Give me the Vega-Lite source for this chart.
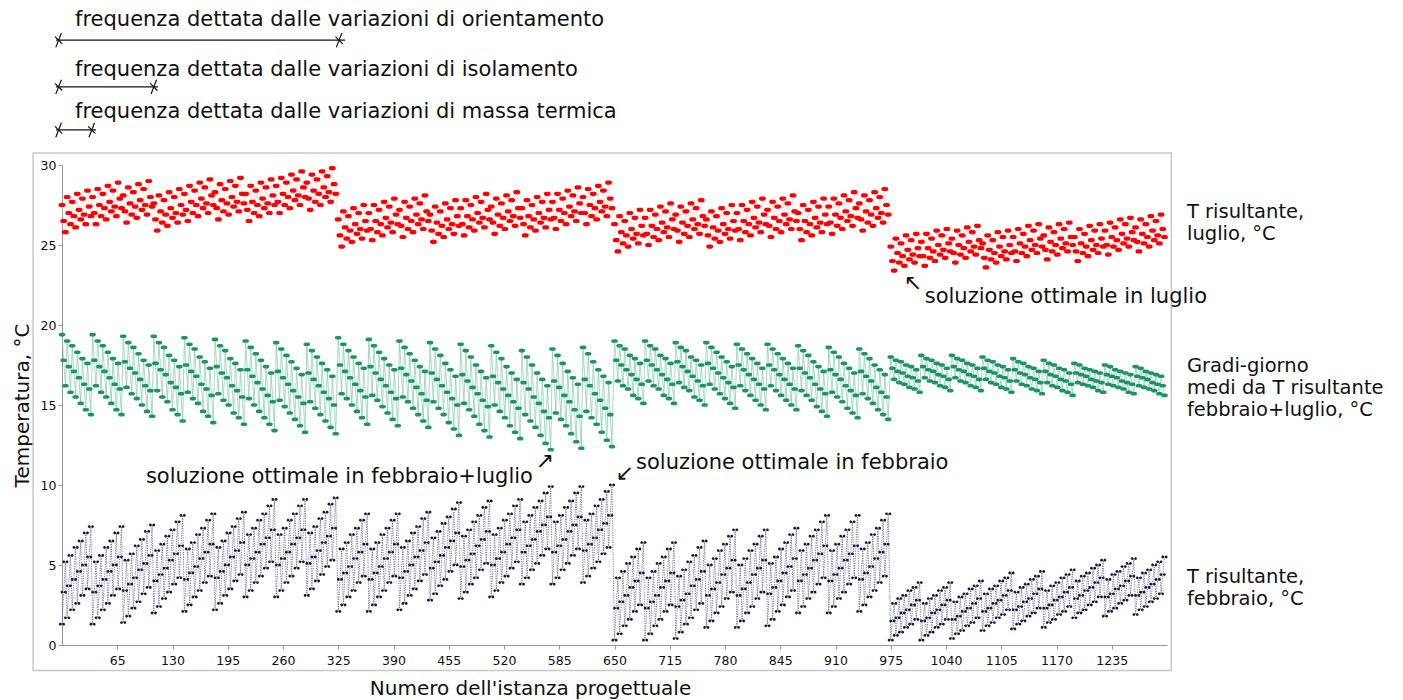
{
"$schema": "https://vega.github.io/schema/vega-lite/v6.json",
"width": 1105, "height": 480,
"autosize": {"type": "none"},
"padding": {"left": 62, "top": 165, "right": 236, "bottom": 55},
"background": "white",
"config": {"view": {"stroke": null}, "font": "DejaVu Sans"},
"data": {"values": [{}]},
"datasets": {"t": [
{"x":0,"f":1.3,"g":19.4,"l":27.5},{"x":2,"f":3.3,"g":17.8,"l":26.5},{"x":4,"f":5.2,"g":16.2,"l":25.8},{"x":6,"f":1.7,"g":19.0,"l":28.0},{"x":8,"f":3.7,"g":17.4,"l":27.0},{"x":10,"f":5.6,"g":15.8,"l":26.3},{"x":12,"f":2.2,"g":18.7,"l":27.7},{"x":14,"f":4.1,"g":17.1,"l":26.8},{"x":16,"f":6.1,"g":15.5,"l":26.1},{"x":18,"f":2.6,"g":18.3,"l":28.2},{"x":20,"f":4.6,"g":16.7,"l":27.2},{"x":22,"f":6.5,"g":15.1,"l":26.6},{"x":24,"f":3.1,"g":17.9,"l":27.9},{"x":26,"f":5.0,"g":16.3,"l":26.9},{"x":28,"f":7.0,"g":14.7,"l":26.3},{"x":30,"f":3.5,"g":17.6,"l":28.4},{"x":32,"f":5.5,"g":16.0,"l":27.4},{"x":34,"f":7.4,"g":14.4,"l":26.8},
{"x":36,"f":1.3,"g":19.4,"l":28.0},{"x":38,"f":3.3,"g":17.8,"l":27.0},{"x":40,"f":5.2,"g":16.2,"l":26.3},{"x":42,"f":1.7,"g":19.0,"l":28.5},{"x":44,"f":3.7,"g":17.4,"l":27.5},{"x":46,"f":5.6,"g":15.8,"l":26.8},{"x":48,"f":2.2,"g":18.7,"l":28.2},{"x":50,"f":4.1,"g":17.1,"l":27.3},{"x":52,"f":6.1,"g":15.5,"l":26.6},{"x":54,"f":2.6,"g":18.3,"l":28.7},{"x":56,"f":4.6,"g":16.7,"l":27.7},{"x":58,"f":6.5,"g":15.1,"l":27.1},{"x":60,"f":3.1,"g":17.9,"l":28.4},{"x":62,"f":5.0,"g":16.3,"l":27.4},{"x":64,"f":7.0,"g":14.7,"l":26.8},{"x":66,"f":3.5,"g":17.6,"l":28.9},{"x":68,"f":5.5,"g":16.0,"l":27.9},{"x":70,"f":7.4,"g":14.4,"l":27.3},
{"x":72,"f":1.4,"g":19.3,"l":28.1},{"x":74,"f":3.4,"g":17.7,"l":27.1},{"x":76,"f":5.3,"g":16.1,"l":26.4},{"x":78,"f":1.8,"g":18.9,"l":28.6},{"x":80,"f":3.8,"g":17.3,"l":27.6},{"x":82,"f":5.7,"g":15.7,"l":26.9},{"x":84,"f":2.3,"g":18.6,"l":28.3},{"x":86,"f":4.2,"g":17.0,"l":27.4},{"x":88,"f":6.2,"g":15.4,"l":26.7},{"x":90,"f":2.7,"g":18.2,"l":28.8},{"x":92,"f":4.7,"g":16.6,"l":27.8},{"x":94,"f":6.6,"g":15.0,"l":27.2},{"x":96,"f":3.2,"g":17.8,"l":28.5},{"x":98,"f":5.1,"g":16.2,"l":27.5},{"x":100,"f":7.1,"g":14.6,"l":26.9},{"x":102,"f":3.6,"g":17.5,"l":29.0},{"x":104,"f":5.6,"g":15.9,"l":28.0},{"x":106,"f":7.5,"g":14.3,"l":27.4},
{"x":108,"f":2.0,"g":19.3,"l":27.6},{"x":110,"f":4.0,"g":17.6,"l":26.6},{"x":112,"f":5.9,"g":15.9,"l":25.9},{"x":114,"f":2.4,"g":18.9,"l":28.1},{"x":116,"f":4.4,"g":17.2,"l":27.1},{"x":118,"f":6.3,"g":15.5,"l":26.4},{"x":120,"f":2.9,"g":18.6,"l":27.8},{"x":122,"f":4.8,"g":16.9,"l":26.9},{"x":124,"f":6.8,"g":15.2,"l":26.2},{"x":126,"f":3.3,"g":18.1,"l":28.3},{"x":128,"f":5.3,"g":16.4,"l":27.3},{"x":130,"f":7.2,"g":14.7,"l":26.7},{"x":132,"f":3.8,"g":17.8,"l":28.0},{"x":134,"f":5.7,"g":16.1,"l":27.0},{"x":136,"f":7.7,"g":14.4,"l":26.4},{"x":138,"f":4.2,"g":17.4,"l":28.5},{"x":140,"f":6.2,"g":15.7,"l":27.5},{"x":142,"f":8.1,"g":14.0,"l":26.9},
{"x":144,"f":2.1,"g":19.2,"l":28.2},{"x":146,"f":4.1,"g":17.5,"l":27.2},{"x":148,"f":6.0,"g":15.8,"l":26.5},{"x":150,"f":2.5,"g":18.8,"l":28.7},{"x":152,"f":4.5,"g":17.1,"l":27.7},{"x":154,"f":6.4,"g":15.4,"l":27.0},{"x":156,"f":3.0,"g":18.5,"l":28.4},{"x":158,"f":4.9,"g":16.8,"l":27.5},{"x":160,"f":6.9,"g":15.1,"l":26.8},{"x":162,"f":3.4,"g":18.0,"l":28.9},{"x":164,"f":5.4,"g":16.3,"l":27.9},{"x":166,"f":7.3,"g":14.6,"l":27.3},{"x":168,"f":3.9,"g":17.7,"l":28.6},{"x":170,"f":5.8,"g":16.0,"l":27.6},{"x":172,"f":7.8,"g":14.3,"l":27.0},{"x":174,"f":4.3,"g":17.3,"l":29.1},{"x":176,"f":6.3,"g":15.6,"l":28.1},{"x":178,"f":8.2,"g":13.9,"l":27.5},
{"x":180,"f":2.2,"g":19.1,"l":28.3},{"x":182,"f":4.2,"g":17.4,"l":27.3},{"x":184,"f":6.1,"g":15.7,"l":26.6},{"x":186,"f":2.6,"g":18.7,"l":28.8},{"x":188,"f":4.6,"g":17.0,"l":27.8},{"x":190,"f":6.5,"g":15.3,"l":27.1},{"x":192,"f":3.1,"g":18.4,"l":28.5},{"x":194,"f":5.0,"g":16.7,"l":27.6},{"x":196,"f":7.0,"g":15.0,"l":26.9},{"x":198,"f":3.5,"g":17.9,"l":29.0},{"x":200,"f":5.5,"g":16.2,"l":28.0},{"x":202,"f":7.4,"g":14.5,"l":27.4},{"x":204,"f":4.0,"g":17.6,"l":28.7},{"x":206,"f":5.9,"g":15.9,"l":27.7},{"x":208,"f":7.9,"g":14.2,"l":27.1},{"x":210,"f":4.4,"g":17.2,"l":29.2},{"x":212,"f":6.4,"g":15.5,"l":28.2},{"x":214,"f":8.3,"g":13.8,"l":27.6},
{"x":216,"f":3.0,"g":19.0,"l":28.2},{"x":218,"f":5.0,"g":17.2,"l":27.2},{"x":220,"f":6.9,"g":15.4,"l":26.5},{"x":222,"f":3.4,"g":18.6,"l":28.7},{"x":224,"f":5.4,"g":16.8,"l":27.7},{"x":226,"f":7.3,"g":15.0,"l":27.0},{"x":228,"f":3.9,"g":18.2,"l":28.4},{"x":230,"f":5.8,"g":16.4,"l":27.5},{"x":232,"f":7.8,"g":14.6,"l":26.8},{"x":234,"f":4.3,"g":17.8,"l":28.9},{"x":236,"f":6.3,"g":16.0,"l":27.9},{"x":238,"f":8.2,"g":14.2,"l":27.3},{"x":240,"f":4.8,"g":17.4,"l":28.6},{"x":242,"f":6.7,"g":15.6,"l":27.6},{"x":244,"f":8.7,"g":13.8,"l":27.0},{"x":246,"f":5.2,"g":17.0,"l":29.1},{"x":248,"f":7.2,"g":15.2,"l":28.1},{"x":250,"f":9.1,"g":13.4,"l":27.5},
{"x":252,"f":3.0,"g":18.9,"l":28.7},{"x":254,"f":5.0,"g":17.1,"l":27.7},{"x":256,"f":6.9,"g":15.3,"l":27.0},{"x":258,"f":3.4,"g":18.5,"l":29.2},{"x":260,"f":5.4,"g":16.7,"l":28.2},{"x":262,"f":7.3,"g":14.9,"l":27.5},{"x":264,"f":3.9,"g":18.1,"l":28.9},{"x":266,"f":5.8,"g":16.3,"l":28.0},{"x":268,"f":7.8,"g":14.5,"l":27.3},{"x":270,"f":4.3,"g":17.7,"l":29.4},{"x":272,"f":6.3,"g":15.9,"l":28.4},{"x":274,"f":8.2,"g":14.1,"l":27.8},{"x":276,"f":4.8,"g":17.3,"l":29.1},{"x":278,"f":6.7,"g":15.5,"l":28.1},{"x":280,"f":8.7,"g":13.7,"l":27.5},{"x":282,"f":5.2,"g":16.9,"l":29.6},{"x":284,"f":7.2,"g":15.1,"l":28.6},{"x":286,"f":9.1,"g":13.3,"l":28.0},
{"x":288,"f":3.1,"g":18.8,"l":28.9},{"x":290,"f":5.1,"g":17.0,"l":27.9},{"x":292,"f":7.0,"g":15.2,"l":27.2},{"x":294,"f":3.5,"g":18.4,"l":29.4},{"x":296,"f":5.5,"g":16.6,"l":28.4},{"x":298,"f":7.4,"g":14.8,"l":27.7},{"x":300,"f":4.0,"g":18.0,"l":29.1},{"x":302,"f":5.9,"g":16.2,"l":28.2},{"x":304,"f":7.9,"g":14.4,"l":27.5},{"x":306,"f":4.4,"g":17.6,"l":29.6},{"x":308,"f":6.4,"g":15.8,"l":28.6},{"x":310,"f":8.3,"g":14.0,"l":28.0},{"x":312,"f":4.9,"g":17.2,"l":29.3},{"x":314,"f":6.8,"g":15.4,"l":28.3},{"x":316,"f":8.8,"g":13.6,"l":27.7},{"x":318,"f":5.3,"g":16.8,"l":29.8},{"x":320,"f":7.3,"g":15.0,"l":28.8},{"x":322,"f":9.2,"g":13.2,"l":28.2},
{"x":325,"f":2.1,"g":19.2,"l":26.6},{"x":327,"f":4.1,"g":17.5,"l":25.6},{"x":329,"f":6.0,"g":15.7,"l":24.9},{"x":331,"f":2.5,"g":18.8,"l":27.1},{"x":333,"f":4.5,"g":17.1,"l":26.1},{"x":335,"f":6.4,"g":15.4,"l":25.4},{"x":337,"f":3.0,"g":18.4,"l":26.8},{"x":339,"f":4.9,"g":16.7,"l":25.9},{"x":341,"f":6.9,"g":15.0,"l":25.2},{"x":343,"f":3.4,"g":18.0,"l":27.3},{"x":345,"f":5.4,"g":16.3,"l":26.3},{"x":347,"f":7.3,"g":14.6,"l":25.7},{"x":349,"f":3.9,"g":17.6,"l":27.0},{"x":351,"f":5.8,"g":15.9,"l":26.0},{"x":353,"f":7.8,"g":14.2,"l":25.4},{"x":355,"f":4.3,"g":17.3,"l":27.5},{"x":357,"f":6.3,"g":15.5,"l":26.5},{"x":359,"f":8.2,"g":13.8,"l":25.9},
{"x":361,"f":2.1,"g":19.1,"l":27.0},{"x":363,"f":4.1,"g":17.4,"l":26.0},{"x":365,"f":6.0,"g":15.6,"l":25.3},{"x":367,"f":2.5,"g":18.7,"l":27.5},{"x":369,"f":4.5,"g":17.0,"l":26.5},{"x":371,"f":6.4,"g":15.3,"l":25.8},{"x":373,"f":3.0,"g":18.3,"l":27.2},{"x":375,"f":4.9,"g":16.6,"l":26.3},{"x":377,"f":6.9,"g":14.9,"l":25.6},{"x":379,"f":3.4,"g":17.9,"l":27.7},{"x":381,"f":5.4,"g":16.2,"l":26.7},{"x":383,"f":7.3,"g":14.5,"l":26.1},{"x":385,"f":3.9,"g":17.5,"l":27.4},{"x":387,"f":5.8,"g":15.8,"l":26.4},{"x":389,"f":7.8,"g":14.1,"l":25.8},{"x":391,"f":4.3,"g":17.2,"l":27.9},{"x":393,"f":6.3,"g":15.4,"l":26.9},{"x":395,"f":8.2,"g":13.7,"l":26.3},
{"x":397,"f":2.2,"g":19.0,"l":27.2},{"x":399,"f":4.2,"g":17.3,"l":26.2},{"x":401,"f":6.1,"g":15.5,"l":25.5},{"x":403,"f":2.6,"g":18.6,"l":27.7},{"x":405,"f":4.6,"g":16.9,"l":26.7},{"x":407,"f":6.5,"g":15.2,"l":26.0},{"x":409,"f":3.1,"g":18.2,"l":27.4},{"x":411,"f":5.0,"g":16.5,"l":26.5},{"x":413,"f":7.0,"g":14.8,"l":25.8},{"x":415,"f":3.5,"g":17.8,"l":27.9},{"x":417,"f":5.5,"g":16.1,"l":26.9},{"x":419,"f":7.4,"g":14.4,"l":26.3},{"x":421,"f":4.0,"g":17.4,"l":27.6},{"x":423,"f":5.9,"g":15.7,"l":26.6},{"x":425,"f":7.9,"g":14.0,"l":26.0},{"x":427,"f":4.4,"g":17.1,"l":28.1},{"x":429,"f":6.4,"g":15.3,"l":27.1},{"x":431,"f":8.3,"g":13.6,"l":26.5},
{"x":433,"f":2.8,"g":18.9,"l":26.9},{"x":435,"f":4.8,"g":17.0,"l":25.9},{"x":437,"f":6.7,"g":15.2,"l":25.2},{"x":439,"f":3.2,"g":18.5,"l":27.4},{"x":441,"f":5.2,"g":16.6,"l":26.4},{"x":443,"f":7.1,"g":14.8,"l":25.7},{"x":445,"f":3.7,"g":18.1,"l":27.1},{"x":447,"f":5.6,"g":16.2,"l":26.2},{"x":449,"f":7.6,"g":14.4,"l":25.5},{"x":451,"f":4.1,"g":17.6,"l":27.6},{"x":453,"f":6.1,"g":15.8,"l":26.6},{"x":455,"f":8.0,"g":13.9,"l":26.0},{"x":457,"f":4.6,"g":17.2,"l":27.3},{"x":459,"f":6.5,"g":15.4,"l":26.3},{"x":461,"f":8.5,"g":13.5,"l":25.7},{"x":463,"f":5.0,"g":16.8,"l":27.8},{"x":465,"f":7.0,"g":15.0,"l":26.8},{"x":467,"f":8.9,"g":13.1,"l":26.2},
{"x":469,"f":2.9,"g":18.8,"l":27.3},{"x":471,"f":4.9,"g":16.9,"l":26.3},{"x":473,"f":6.8,"g":15.1,"l":25.6},{"x":475,"f":3.3,"g":18.4,"l":27.8},{"x":477,"f":5.3,"g":16.5,"l":26.8},{"x":479,"f":7.2,"g":14.7,"l":26.1},{"x":481,"f":3.8,"g":18.0,"l":27.5},{"x":483,"f":5.7,"g":16.1,"l":26.6},{"x":485,"f":7.7,"g":14.3,"l":25.9},{"x":487,"f":4.2,"g":17.5,"l":28.0},{"x":489,"f":6.2,"g":15.7,"l":27.0},{"x":491,"f":8.1,"g":13.8,"l":26.4},{"x":493,"f":4.7,"g":17.1,"l":27.7},{"x":495,"f":6.6,"g":15.3,"l":26.7},{"x":497,"f":8.6,"g":13.4,"l":26.1},{"x":499,"f":5.1,"g":16.7,"l":28.2},{"x":501,"f":7.1,"g":14.9,"l":27.2},{"x":503,"f":9.0,"g":13.0,"l":26.6},
{"x":505,"f":3.0,"g":18.7,"l":27.4},{"x":507,"f":5.0,"g":16.8,"l":26.4},{"x":509,"f":6.9,"g":15.0,"l":25.7},{"x":511,"f":3.4,"g":18.3,"l":27.9},{"x":513,"f":5.4,"g":16.4,"l":26.9},{"x":515,"f":7.3,"g":14.6,"l":26.2},{"x":517,"f":3.9,"g":17.9,"l":27.6},{"x":519,"f":5.8,"g":16.0,"l":26.7},{"x":521,"f":7.8,"g":14.2,"l":26.0},{"x":523,"f":4.3,"g":17.4,"l":28.1},{"x":525,"f":6.3,"g":15.6,"l":27.1},{"x":527,"f":8.2,"g":13.7,"l":26.5},{"x":529,"f":4.8,"g":17.0,"l":27.8},{"x":531,"f":6.7,"g":15.2,"l":26.8},{"x":533,"f":8.7,"g":13.3,"l":26.2},{"x":535,"f":5.2,"g":16.6,"l":28.3},{"x":537,"f":7.2,"g":14.8,"l":27.3},{"x":539,"f":9.1,"g":12.9,"l":26.7},
{"x":541,"f":3.8,"g":18.4,"l":27.3},{"x":543,"f":5.8,"g":16.4,"l":26.3},{"x":545,"f":7.7,"g":14.4,"l":25.6},{"x":547,"f":4.2,"g":18.0,"l":27.8},{"x":549,"f":6.2,"g":16.0,"l":26.8},{"x":551,"f":8.1,"g":14.0,"l":26.1},{"x":553,"f":4.7,"g":17.5,"l":27.5},{"x":555,"f":6.6,"g":15.5,"l":26.6},{"x":557,"f":8.6,"g":13.6,"l":25.9},{"x":559,"f":5.1,"g":17.0,"l":28.0},{"x":561,"f":7.1,"g":15.1,"l":27.0},{"x":563,"f":9.0,"g":13.1,"l":26.4},{"x":565,"f":5.6,"g":16.6,"l":27.7},{"x":567,"f":7.5,"g":14.6,"l":26.7},{"x":569,"f":9.5,"g":12.6,"l":26.1},{"x":571,"f":6.0,"g":16.2,"l":28.2},{"x":573,"f":8.0,"g":14.2,"l":27.2},{"x":575,"f":9.9,"g":12.2,"l":26.6},
{"x":577,"f":3.8,"g":18.5,"l":27.7},{"x":579,"f":5.8,"g":16.5,"l":26.7},{"x":581,"f":7.7,"g":14.5,"l":26.0},{"x":583,"f":4.2,"g":18.1,"l":28.2},{"x":585,"f":6.2,"g":16.1,"l":27.2},{"x":587,"f":8.1,"g":14.1,"l":26.5},{"x":589,"f":4.7,"g":17.6,"l":27.9},{"x":591,"f":6.6,"g":15.6,"l":27.0},{"x":593,"f":8.6,"g":13.7,"l":26.3},{"x":595,"f":5.1,"g":17.1,"l":28.4},{"x":597,"f":7.1,"g":15.2,"l":27.4},{"x":599,"f":9.0,"g":13.2,"l":26.8},{"x":601,"f":5.6,"g":16.7,"l":28.1},{"x":603,"f":7.5,"g":14.7,"l":27.1},{"x":605,"f":9.5,"g":12.7,"l":26.5},{"x":607,"f":6.0,"g":16.3,"l":28.6},{"x":609,"f":8.0,"g":14.3,"l":27.6},{"x":611,"f":9.9,"g":12.3,"l":27.0},
{"x":613,"f":3.9,"g":18.6,"l":28.0},{"x":615,"f":5.9,"g":16.6,"l":27.0},{"x":617,"f":7.8,"g":14.6,"l":26.3},{"x":619,"f":4.3,"g":18.2,"l":28.5},{"x":621,"f":6.3,"g":16.2,"l":27.5},{"x":623,"f":8.2,"g":14.2,"l":26.8},{"x":625,"f":4.8,"g":17.7,"l":28.2},{"x":627,"f":6.7,"g":15.7,"l":27.3},{"x":629,"f":8.7,"g":13.8,"l":26.6},{"x":631,"f":5.2,"g":17.2,"l":28.7},{"x":633,"f":7.2,"g":15.3,"l":27.7},{"x":635,"f":9.1,"g":13.3,"l":27.1},{"x":637,"f":5.7,"g":16.8,"l":28.4},{"x":639,"f":7.6,"g":14.8,"l":27.4},{"x":641,"f":9.6,"g":12.8,"l":26.8},{"x":643,"f":6.1,"g":16.4,"l":28.9},{"x":645,"f":8.1,"g":14.4,"l":27.9},{"x":647,"f":10.0,"g":12.4,"l":27.3},
{"x":650,"f":0.3,"g":19.0,"l":26.3},{"x":652,"f":2.3,"g":17.8,"l":25.3},{"x":654,"f":4.2,"g":16.5,"l":24.6},{"x":656,"f":0.7,"g":18.7,"l":26.8},{"x":658,"f":2.7,"g":17.5,"l":25.8},{"x":660,"f":4.6,"g":16.2,"l":25.1},{"x":662,"f":1.2,"g":18.5,"l":26.5},{"x":664,"f":3.1,"g":17.2,"l":25.6},{"x":666,"f":5.1,"g":16.0,"l":24.9},{"x":668,"f":1.6,"g":18.1,"l":27.0},{"x":670,"f":3.6,"g":16.9,"l":26.0},{"x":672,"f":5.5,"g":15.6,"l":25.4},{"x":674,"f":2.1,"g":17.9,"l":26.7},{"x":676,"f":4.0,"g":16.6,"l":25.7},{"x":678,"f":6.0,"g":15.4,"l":25.1},{"x":680,"f":2.5,"g":17.6,"l":27.2},{"x":682,"f":4.5,"g":16.3,"l":26.2},{"x":684,"f":6.4,"g":15.1,"l":25.6},
{"x":686,"f":0.3,"g":19.0,"l":26.7},{"x":688,"f":2.3,"g":17.8,"l":25.7},{"x":690,"f":4.2,"g":16.5,"l":25.0},{"x":692,"f":0.7,"g":18.7,"l":27.2},{"x":694,"f":2.7,"g":17.5,"l":26.2},{"x":696,"f":4.6,"g":16.2,"l":25.5},{"x":698,"f":1.2,"g":18.5,"l":26.9},{"x":700,"f":3.1,"g":17.2,"l":26.0},{"x":702,"f":5.1,"g":16.0,"l":25.3},{"x":704,"f":1.6,"g":18.1,"l":27.4},{"x":706,"f":3.6,"g":16.9,"l":26.4},{"x":708,"f":5.5,"g":15.6,"l":25.8},{"x":710,"f":2.1,"g":17.9,"l":27.1},{"x":712,"f":4.0,"g":16.6,"l":26.1},{"x":714,"f":6.0,"g":15.4,"l":25.5},{"x":716,"f":2.5,"g":17.6,"l":27.6},{"x":718,"f":4.5,"g":16.3,"l":26.6},{"x":720,"f":6.4,"g":15.1,"l":26.0},
{"x":722,"f":0.4,"g":18.9,"l":26.9},{"x":724,"f":2.4,"g":17.7,"l":25.9},{"x":726,"f":4.3,"g":16.4,"l":25.2},{"x":728,"f":0.8,"g":18.6,"l":27.4},{"x":730,"f":2.8,"g":17.4,"l":26.4},{"x":732,"f":4.7,"g":16.1,"l":25.7},{"x":734,"f":1.3,"g":18.4,"l":27.1},{"x":736,"f":3.2,"g":17.1,"l":26.2},{"x":738,"f":5.2,"g":15.9,"l":25.5},{"x":740,"f":1.7,"g":18.0,"l":27.6},{"x":742,"f":3.7,"g":16.8,"l":26.6},{"x":744,"f":5.6,"g":15.5,"l":26.0},{"x":746,"f":2.2,"g":17.8,"l":27.3},{"x":748,"f":4.1,"g":16.5,"l":26.3},{"x":750,"f":6.1,"g":15.3,"l":25.7},{"x":752,"f":2.6,"g":17.5,"l":27.8},{"x":754,"f":4.6,"g":16.2,"l":26.8},{"x":756,"f":6.5,"g":15.0,"l":26.2},
{"x":758,"f":1.1,"g":18.9,"l":26.6},{"x":760,"f":3.1,"g":17.6,"l":25.6},{"x":762,"f":5.0,"g":16.3,"l":24.9},{"x":764,"f":1.5,"g":18.6,"l":27.1},{"x":766,"f":3.5,"g":17.3,"l":26.1},{"x":768,"f":5.4,"g":16.0,"l":25.4},{"x":770,"f":2.0,"g":18.3,"l":26.8},{"x":772,"f":3.9,"g":17.0,"l":25.9},{"x":774,"f":5.9,"g":15.7,"l":25.2},{"x":776,"f":2.4,"g":18.0,"l":27.3},{"x":778,"f":4.4,"g":16.7,"l":26.3},{"x":780,"f":6.3,"g":15.4,"l":25.7},{"x":782,"f":2.9,"g":17.7,"l":27.0},{"x":784,"f":4.8,"g":16.4,"l":26.0},{"x":786,"f":6.8,"g":15.1,"l":25.4},{"x":788,"f":3.3,"g":17.4,"l":27.5},{"x":790,"f":5.3,"g":16.1,"l":26.5},{"x":792,"f":7.2,"g":14.8,"l":25.9},
{"x":794,"f":1.1,"g":18.8,"l":27.0},{"x":796,"f":3.1,"g":17.5,"l":26.0},{"x":798,"f":5.0,"g":16.2,"l":25.3},{"x":800,"f":1.5,"g":18.5,"l":27.5},{"x":802,"f":3.5,"g":17.2,"l":26.5},{"x":804,"f":5.4,"g":15.9,"l":25.8},{"x":806,"f":2.0,"g":18.2,"l":27.2},{"x":808,"f":3.9,"g":16.9,"l":26.3},{"x":810,"f":5.9,"g":15.6,"l":25.6},{"x":812,"f":2.4,"g":17.9,"l":27.7},{"x":814,"f":4.4,"g":16.6,"l":26.7},{"x":816,"f":6.3,"g":15.3,"l":26.1},{"x":818,"f":2.9,"g":17.6,"l":27.4},{"x":820,"f":4.8,"g":16.3,"l":26.4},{"x":822,"f":6.8,"g":15.0,"l":25.8},{"x":824,"f":3.3,"g":17.3,"l":27.9},{"x":826,"f":5.3,"g":16.0,"l":26.9},{"x":828,"f":7.2,"g":14.7,"l":26.3},
{"x":830,"f":1.2,"g":18.8,"l":27.2},{"x":832,"f":3.2,"g":17.5,"l":26.2},{"x":834,"f":5.1,"g":16.2,"l":25.5},{"x":836,"f":1.6,"g":18.5,"l":27.7},{"x":838,"f":3.6,"g":17.2,"l":26.7},{"x":840,"f":5.5,"g":15.9,"l":26.0},{"x":842,"f":2.1,"g":18.2,"l":27.4},{"x":844,"f":4.0,"g":16.9,"l":26.5},{"x":846,"f":6.0,"g":15.6,"l":25.8},{"x":848,"f":2.5,"g":17.9,"l":27.9},{"x":850,"f":4.5,"g":16.6,"l":26.9},{"x":852,"f":6.4,"g":15.3,"l":26.3},{"x":854,"f":3.0,"g":17.6,"l":27.6},{"x":856,"f":4.9,"g":16.3,"l":26.6},{"x":858,"f":6.9,"g":15.0,"l":26.0},{"x":860,"f":3.4,"g":17.3,"l":28.1},{"x":862,"f":5.4,"g":16.0,"l":27.1},{"x":864,"f":7.3,"g":14.7,"l":26.5},
{"x":866,"f":2.0,"g":18.7,"l":27.0},{"x":868,"f":4.0,"g":17.3,"l":26.0},{"x":870,"f":5.9,"g":15.9,"l":25.3},{"x":872,"f":2.4,"g":18.4,"l":27.5},{"x":874,"f":4.4,"g":17.0,"l":26.5},{"x":876,"f":6.3,"g":15.6,"l":25.8},{"x":878,"f":2.9,"g":18.1,"l":27.2},{"x":880,"f":4.8,"g":16.7,"l":26.3},{"x":882,"f":6.8,"g":15.3,"l":25.6},{"x":884,"f":3.3,"g":17.7,"l":27.7},{"x":886,"f":5.3,"g":16.3,"l":26.7},{"x":888,"f":7.2,"g":14.9,"l":26.1},{"x":890,"f":3.8,"g":17.4,"l":27.4},{"x":892,"f":5.7,"g":16.0,"l":26.4},{"x":894,"f":7.7,"g":14.6,"l":25.8},{"x":896,"f":4.2,"g":17.1,"l":27.9},{"x":898,"f":6.2,"g":15.7,"l":26.9},{"x":900,"f":8.1,"g":14.3,"l":26.3},
{"x":902,"f":2.0,"g":18.6,"l":27.4},{"x":904,"f":4.0,"g":17.2,"l":26.4},{"x":906,"f":5.9,"g":15.8,"l":25.7},{"x":908,"f":2.4,"g":18.3,"l":27.9},{"x":910,"f":4.4,"g":16.9,"l":26.9},{"x":912,"f":6.3,"g":15.5,"l":26.2},{"x":914,"f":2.9,"g":18.0,"l":27.6},{"x":916,"f":4.8,"g":16.6,"l":26.7},{"x":918,"f":6.8,"g":15.2,"l":26.0},{"x":920,"f":3.3,"g":17.6,"l":28.1},{"x":922,"f":5.3,"g":16.2,"l":27.1},{"x":924,"f":7.2,"g":14.8,"l":26.5},{"x":926,"f":3.8,"g":17.3,"l":27.8},{"x":928,"f":5.7,"g":15.9,"l":26.8},{"x":930,"f":7.7,"g":14.5,"l":26.2},{"x":932,"f":4.2,"g":17.0,"l":28.3},{"x":934,"f":6.2,"g":15.6,"l":27.3},{"x":936,"f":8.1,"g":14.2,"l":26.7},
{"x":938,"f":2.1,"g":18.5,"l":27.6},{"x":940,"f":4.1,"g":17.1,"l":26.6},{"x":942,"f":6.0,"g":15.7,"l":25.9},{"x":944,"f":2.5,"g":18.2,"l":28.1},{"x":946,"f":4.5,"g":16.8,"l":27.1},{"x":948,"f":6.4,"g":15.4,"l":26.4},{"x":950,"f":3.0,"g":17.9,"l":27.8},{"x":952,"f":4.9,"g":16.5,"l":26.9},{"x":954,"f":6.9,"g":15.1,"l":26.2},{"x":956,"f":3.4,"g":17.5,"l":28.3},{"x":958,"f":5.4,"g":16.1,"l":27.3},{"x":960,"f":7.3,"g":14.7,"l":26.7},{"x":962,"f":3.9,"g":17.2,"l":28.0},{"x":964,"f":5.8,"g":15.8,"l":27.0},{"x":966,"f":7.8,"g":14.4,"l":26.4},{"x":968,"f":4.3,"g":16.9,"l":28.5},{"x":970,"f":6.3,"g":15.5,"l":27.5},{"x":972,"f":8.2,"g":14.1,"l":26.9},
{"x":975,"f":0.3,"g":18.0,"l":24.9},{"x":977,"f":1.5,"g":17.3,"l":24.0},{"x":979,"f":2.6,"g":16.6,"l":23.4},{"x":981,"f":0.6,"g":17.8,"l":25.4},{"x":983,"f":1.7,"g":17.1,"l":24.5},{"x":985,"f":2.9,"g":16.4,"l":23.9},{"x":987,"f":0.8,"g":17.7,"l":25.1},{"x":989,"f":2.0,"g":17.0,"l":24.3},{"x":991,"f":3.1,"g":16.3,"l":23.7},{"x":993,"f":1.1,"g":17.5,"l":25.6},{"x":995,"f":2.2,"g":16.8,"l":24.7},{"x":997,"f":3.4,"g":16.1,"l":24.1},{"x":999,"f":1.3,"g":17.4,"l":25.3},{"x":1001,"f":2.5,"g":16.7,"l":24.4},{"x":1003,"f":3.6,"g":16.0,"l":23.9},{"x":1005,"f":1.6,"g":17.2,"l":25.7},{"x":1007,"f":2.8,"g":16.5,"l":24.8},{"x":1009,"f":3.9,"g":15.8,"l":24.3},
{"x":1011,"f":0.3,"g":18.1,"l":25.2},{"x":1013,"f":1.5,"g":17.4,"l":24.3},{"x":1015,"f":2.6,"g":16.7,"l":23.7},{"x":1017,"f":0.6,"g":17.9,"l":25.7},{"x":1019,"f":1.7,"g":17.2,"l":24.8},{"x":1021,"f":2.9,"g":16.5,"l":24.2},{"x":1023,"f":0.8,"g":17.8,"l":25.4},{"x":1025,"f":2.0,"g":17.1,"l":24.6},{"x":1027,"f":3.1,"g":16.4,"l":24.0},{"x":1029,"f":1.1,"g":17.6,"l":25.9},{"x":1031,"f":2.2,"g":16.9,"l":25.0},{"x":1033,"f":3.4,"g":16.2,"l":24.4},{"x":1035,"f":1.3,"g":17.5,"l":25.6},{"x":1037,"f":2.5,"g":16.8,"l":24.7},{"x":1039,"f":3.6,"g":16.1,"l":24.2},{"x":1041,"f":1.6,"g":17.3,"l":26.0},{"x":1043,"f":2.8,"g":16.6,"l":25.1},{"x":1045,"f":3.9,"g":15.9,"l":24.6},
{"x":1047,"f":0.4,"g":18.1,"l":25.4},{"x":1049,"f":1.6,"g":17.4,"l":24.5},{"x":1051,"f":2.7,"g":16.7,"l":23.9},{"x":1053,"f":0.7,"g":17.9,"l":25.9},{"x":1055,"f":1.8,"g":17.2,"l":25.0},{"x":1057,"f":3.0,"g":16.5,"l":24.4},{"x":1059,"f":0.9,"g":17.8,"l":25.6},{"x":1061,"f":2.1,"g":17.1,"l":24.8},{"x":1063,"f":3.2,"g":16.4,"l":24.2},{"x":1065,"f":1.2,"g":17.6,"l":26.1},{"x":1067,"f":2.3,"g":16.9,"l":25.2},{"x":1069,"f":3.5,"g":16.2,"l":24.6},{"x":1071,"f":1.4,"g":17.5,"l":25.8},{"x":1073,"f":2.6,"g":16.8,"l":24.9},{"x":1075,"f":3.7,"g":16.1,"l":24.4},{"x":1077,"f":1.7,"g":17.3,"l":26.2},{"x":1079,"f":2.9,"g":16.6,"l":25.3},{"x":1081,"f":4.0,"g":15.9,"l":24.8},
{"x":1083,"f":0.9,"g":18.0,"l":25.1},{"x":1085,"f":2.1,"g":17.3,"l":24.2},{"x":1087,"f":3.2,"g":16.6,"l":23.6},{"x":1089,"f":1.2,"g":17.8,"l":25.6},{"x":1091,"f":2.3,"g":17.1,"l":24.7},{"x":1093,"f":3.5,"g":16.4,"l":24.1},{"x":1095,"f":1.4,"g":17.7,"l":25.3},{"x":1097,"f":2.6,"g":17.0,"l":24.5},{"x":1099,"f":3.7,"g":16.3,"l":23.9},{"x":1101,"f":1.7,"g":17.5,"l":25.8},{"x":1103,"f":2.8,"g":16.8,"l":24.9},{"x":1105,"f":4.0,"g":16.1,"l":24.3},{"x":1107,"f":1.9,"g":17.4,"l":25.5},{"x":1109,"f":3.1,"g":16.7,"l":24.6},{"x":1111,"f":4.2,"g":16.0,"l":24.1},{"x":1113,"f":2.2,"g":17.2,"l":25.9},{"x":1115,"f":3.4,"g":16.5,"l":25.0},{"x":1117,"f":4.5,"g":15.8,"l":24.5},
{"x":1119,"f":1.0,"g":17.9,"l":25.5},{"x":1121,"f":2.2,"g":17.2,"l":24.6},{"x":1123,"f":3.3,"g":16.5,"l":24.0},{"x":1125,"f":1.3,"g":17.7,"l":26.0},{"x":1127,"f":2.4,"g":17.0,"l":25.1},{"x":1129,"f":3.6,"g":16.3,"l":24.5},{"x":1131,"f":1.5,"g":17.6,"l":25.7},{"x":1133,"f":2.7,"g":16.9,"l":24.9},{"x":1135,"f":3.8,"g":16.2,"l":24.3},{"x":1137,"f":1.8,"g":17.4,"l":26.2},{"x":1139,"f":2.9,"g":16.7,"l":25.3},{"x":1141,"f":4.1,"g":16.0,"l":24.7},{"x":1143,"f":2.0,"g":17.3,"l":25.9},{"x":1145,"f":3.2,"g":16.6,"l":25.0},{"x":1147,"f":4.3,"g":15.9,"l":24.5},{"x":1149,"f":2.3,"g":17.1,"l":26.3},{"x":1151,"f":3.5,"g":16.4,"l":25.4},{"x":1153,"f":4.6,"g":15.7,"l":24.9},
{"x":1155,"f":1.1,"g":17.8,"l":25.6},{"x":1157,"f":2.3,"g":17.1,"l":24.7},{"x":1159,"f":3.4,"g":16.4,"l":24.1},{"x":1161,"f":1.4,"g":17.6,"l":26.1},{"x":1163,"f":2.5,"g":16.9,"l":25.2},{"x":1165,"f":3.7,"g":16.2,"l":24.6},{"x":1167,"f":1.6,"g":17.5,"l":25.8},{"x":1169,"f":2.8,"g":16.8,"l":25.0},{"x":1171,"f":3.9,"g":16.1,"l":24.4},{"x":1173,"f":1.9,"g":17.3,"l":26.3},{"x":1175,"f":3.0,"g":16.6,"l":25.4},{"x":1177,"f":4.2,"g":15.9,"l":24.8},{"x":1179,"f":2.1,"g":17.2,"l":26.0},{"x":1181,"f":3.3,"g":16.5,"l":25.1},{"x":1183,"f":4.4,"g":15.8,"l":24.6},{"x":1185,"f":2.4,"g":17.0,"l":26.4},{"x":1187,"f":3.6,"g":16.3,"l":25.5},{"x":1189,"f":4.7,"g":15.6,"l":25.0},
{"x":1191,"f":1.7,"g":17.6,"l":25.5},{"x":1193,"f":2.9,"g":17.0,"l":24.6},{"x":1195,"f":4.0,"g":16.4,"l":24.0},{"x":1197,"f":2.0,"g":17.5,"l":26.0},{"x":1199,"f":3.1,"g":16.9,"l":25.1},{"x":1201,"f":4.3,"g":16.3,"l":24.5},{"x":1203,"f":2.2,"g":17.3,"l":25.7},{"x":1205,"f":3.4,"g":16.8,"l":24.9},{"x":1207,"f":4.5,"g":16.2,"l":24.3},{"x":1209,"f":2.5,"g":17.2,"l":26.2},{"x":1211,"f":3.6,"g":16.6,"l":25.3},{"x":1213,"f":4.8,"g":16.1,"l":24.7},{"x":1215,"f":2.7,"g":17.1,"l":25.9},{"x":1217,"f":3.9,"g":16.5,"l":25.0},{"x":1219,"f":5.0,"g":15.9,"l":24.5},{"x":1221,"f":3.0,"g":17.0,"l":26.3},{"x":1223,"f":4.2,"g":16.4,"l":25.4},{"x":1225,"f":5.3,"g":15.8,"l":24.9},
{"x":1227,"f":1.8,"g":17.5,"l":25.9},{"x":1229,"f":3.0,"g":16.9,"l":25.0},{"x":1231,"f":4.1,"g":16.3,"l":24.4},{"x":1233,"f":2.1,"g":17.4,"l":26.4},{"x":1235,"f":3.2,"g":16.8,"l":25.5},{"x":1237,"f":4.4,"g":16.2,"l":24.9},{"x":1239,"f":2.3,"g":17.2,"l":26.1},{"x":1241,"f":3.5,"g":16.7,"l":25.3},{"x":1243,"f":4.6,"g":16.1,"l":24.7},{"x":1245,"f":2.6,"g":17.1,"l":26.6},{"x":1247,"f":3.7,"g":16.5,"l":25.7},{"x":1249,"f":4.9,"g":16.0,"l":25.1},{"x":1251,"f":2.8,"g":17.0,"l":26.3},{"x":1253,"f":4.0,"g":16.4,"l":25.4},{"x":1255,"f":5.1,"g":15.8,"l":24.9},{"x":1257,"f":3.1,"g":16.9,"l":26.7},{"x":1259,"f":4.3,"g":16.3,"l":25.8},{"x":1261,"f":5.4,"g":15.7,"l":25.3},
{"x":1263,"f":1.9,"g":17.4,"l":26.1},{"x":1265,"f":3.1,"g":16.8,"l":25.2},{"x":1267,"f":4.2,"g":16.2,"l":24.6},{"x":1269,"f":2.2,"g":17.3,"l":26.6},{"x":1271,"f":3.3,"g":16.7,"l":25.7},{"x":1273,"f":4.5,"g":16.1,"l":25.1},{"x":1275,"f":2.4,"g":17.1,"l":26.3},{"x":1277,"f":3.6,"g":16.6,"l":25.5},{"x":1279,"f":4.7,"g":16.0,"l":24.9},{"x":1281,"f":2.7,"g":17.0,"l":26.8},{"x":1283,"f":3.8,"g":16.4,"l":25.9},{"x":1285,"f":5.0,"g":15.9,"l":25.3},{"x":1287,"f":2.9,"g":16.9,"l":26.5},{"x":1289,"f":4.1,"g":16.3,"l":25.6},{"x":1291,"f":5.2,"g":15.7,"l":25.1},{"x":1293,"f":3.2,"g":16.8,"l":26.9},{"x":1295,"f":4.4,"g":16.2,"l":26.0},{"x":1297,"f":5.5,"g":15.6,"l":25.5}
]},
"layer": [
{"mark": {"type": "rect", "fillOpacity": 0, "stroke": "#c8c8c8", "strokeWidth": 1.5},
 "encoding": {"x": {"datum": -34}, "x2": {"datum": 1305}, "y": {"datum": 30.75}, "y2": {"datum": -1.6}}},
{"data": {"name": "t"},
 "transform": [{"fold": ["l", "g", "f"], "as": ["s", "v"]}],
 "mark": {"type": "line", "strokeWidth": 0.75},
 "encoding": {
  "x": {"field": "x", "type": "quantitative", "title": "Numero dell'istanza progettuale",
        "scale": {"domain": [0, 1300], "nice": false, "zero": false},
        "axis": {"values": [65,130,195,260,325,390,455,520,585,650,715,780,845,910,975,1040,1105,1170,1235], "format": "d",
                 "grid": false, "labelFontSize": 12.5, "labelColor": "#111", "tickSize": 4, "tickColor": "#999",
                 "domainColor": "#999", "labelPadding": 5, "titleFontSize": 20, "titleFontWeight": "normal",
                 "titleColor": "#111", "titleX": 468, "titleY": 43, "titleBaseline": "middle", "titleAlign": "center"}},
  "y": {"field": "v", "type": "quantitative", "title": "Temperatura, °C",
        "scale": {"domain": [0, 30], "nice": false},
        "axis": {"values": [0,5,10,15,20,25,30], "grid": false, "labelFontSize": 12.5, "labelColor": "#111",
                 "tickSize": 4, "tickColor": "#999", "domainColor": "#999", "titleFontSize": 20,
                 "titleFontWeight": "normal", "titleColor": "#111", "titleX": -40, "titleY": 240,
                 "titleBaseline": "middle", "titleAlign": "center"}},
  "stroke": {"field": "s", "type": "nominal", "legend": null,
             "scale": {"domain": ["l", "g", "f"], "range": ["#ffc2c2", "#7cc9a4", "#4f4f75"]}},
  "strokeDash": {"field": "s", "type": "nominal", "legend": null,
             "scale": {"domain": ["l", "g", "f"], "range": [[1.5, 1.5], [1, 0], [1.2, 1.2]]}}
 }},
{"data": {"name": "t"},
 "transform": [{"fold": ["l", "g", "f"], "as": ["s", "v"]}],
 "mark": {"type": "point", "filled": true, "opacity": 1, "strokeWidth": 0},
 "encoding": {
  "x": {"field": "x", "type": "quantitative"},
  "y": {"field": "v", "type": "quantitative"},
  "fill": {"field": "s", "type": "nominal", "legend": null,
           "scale": {"domain": ["l", "g", "f"], "range": ["#ff0000", "#1e9466", "#16163f"]}},
  "shape": {"field": "s", "type": "nominal", "legend": null,
           "scale": {"domain": ["l", "g", "f"], "range": [
             "M-0.4,-0.6L0.4,-0.6A0.6,0.6,0,0,1,0.4,0.6L-0.4,0.6A0.6,0.6,0,0,1,-0.4,-0.6Z",
             "M-0.45,-0.55L0.45,-0.55A0.55,0.55,0,0,1,0.45,0.55L-0.45,0.55A0.55,0.55,0,0,1,-0.45,-0.55Z",
             "M-0.97,0A0.44,0.44,0,1,1,-0.09,0A0.44,0.44,0,1,1,-0.97,0ZM0.09,0A0.44,0.44,0,1,1,0.97,0A0.44,0.44,0,1,1,0.09,0Z"]}},
  "size": {"field": "s", "type": "nominal", "legend": null,
           "scale": {"domain": ["l", "g", "f"], "range": [48, 40, 70]}}
 }},
{"mark": {"type": "text", "text": "frequenza dettata dalle variazioni di orientamento", "align": "left", "baseline": "middle", "fontSize": 21, "color": "#111"},
 "encoding": {"x": {"datum": 15.3}, "y": {"datum": 39.06}}},
{"mark": {"type": "text", "text": "frequenza dettata dalle variazioni di isolamento", "align": "left", "baseline": "middle", "fontSize": 21, "color": "#111"},
 "encoding": {"x": {"datum": 15.3}, "y": {"datum": 35.94}}},
{"mark": {"type": "text", "text": "frequenza dettata dalle variazioni di massa termica", "align": "left", "baseline": "middle", "fontSize": 21, "color": "#111"},
 "encoding": {"x": {"datum": 15.3}, "y": {"datum": 33.31}}},
{"mark": {"type": "rule", "color": "#111", "strokeWidth": 1.2},
 "encoding": {"x": {"datum": -7}, "x2": {"datum": 333}, "y": {"datum": 37.8}}},
{"mark": {"type": "rule", "color": "#111", "strokeWidth": 1.2},
 "encoding": {"x": {"datum": -7}, "x2": {"datum": 113}, "y": {"datum": 34.88}}},
{"mark": {"type": "rule", "color": "#111", "strokeWidth": 1.2},
 "encoding": {"x": {"datum": -7}, "x2": {"datum": 40}, "y": {"datum": 32.19}}},
{"mark": {"type": "point", "shape": "M-0.35,0.9L0.35,-0.9M-0.45,-0.45L0.45,0.45", "size": 256, "color": "#111", "strokeWidth": 1.2, "filled": false, "opacity": 1},
 "encoding": {"x": {"datum": -4}, "y": {"datum": 37.8}}},
{"mark": {"type": "point", "shape": "M-0.35,0.9L0.35,-0.9M-0.45,-0.45L0.45,0.45", "size": 256, "color": "#111", "strokeWidth": 1.2, "filled": false, "opacity": 1},
 "encoding": {"x": {"datum": 326}, "y": {"datum": 37.8}}},
{"mark": {"type": "point", "shape": "M-0.35,0.9L0.35,-0.9M-0.45,-0.45L0.45,0.45", "size": 256, "color": "#111", "strokeWidth": 1.2, "filled": false, "opacity": 1},
 "encoding": {"x": {"datum": -4}, "y": {"datum": 34.88}}},
{"mark": {"type": "point", "shape": "M-0.35,0.9L0.35,-0.9M-0.45,-0.45L0.45,0.45", "size": 256, "color": "#111", "strokeWidth": 1.2, "filled": false, "opacity": 1},
 "encoding": {"x": {"datum": 108}, "y": {"datum": 34.88}}},
{"mark": {"type": "point", "shape": "M-0.35,0.9L0.35,-0.9M-0.45,-0.45L0.45,0.45", "size": 256, "color": "#111", "strokeWidth": 1.2, "filled": false, "opacity": 1},
 "encoding": {"x": {"datum": -4}, "y": {"datum": 32.19}}},
{"mark": {"type": "point", "shape": "M-0.35,0.9L0.35,-0.9M-0.45,-0.45L0.45,0.45", "size": 256, "color": "#111", "strokeWidth": 1.2, "filled": false, "opacity": 1},
 "encoding": {"x": {"datum": 35}, "y": {"datum": 32.19}}},
{"mark": {"type": "text", "text": "T risultante,", "align": "left", "baseline": "middle", "fontSize": 19.5, "color": "#111"},
 "encoding": {"x": {"datum": 1323.5}, "y": {"datum": 27.06}}},
{"mark": {"type": "text", "text": "luglio, °C", "align": "left", "baseline": "middle", "fontSize": 19.5, "color": "#111"},
 "encoding": {"x": {"datum": 1323.5}, "y": {"datum": 25.69}}},
{"mark": {"type": "text", "text": "Gradi-giorno", "align": "left", "baseline": "middle", "fontSize": 19.5, "color": "#111"},
 "encoding": {"x": {"datum": 1323.5}, "y": {"datum": 17.44}}},
{"mark": {"type": "text", "text": "medi da T risultante", "align": "left", "baseline": "middle", "fontSize": 19.5, "color": "#111"},
 "encoding": {"x": {"datum": 1323.5}, "y": {"datum": 16.06}}},
{"mark": {"type": "text", "text": "febbraio+luglio, °C", "align": "left", "baseline": "middle", "fontSize": 19.5, "color": "#111"},
 "encoding": {"x": {"datum": 1323.5}, "y": {"datum": 14.69}}},
{"mark": {"type": "text", "text": "T risultante,", "align": "left", "baseline": "middle", "fontSize": 19.5, "color": "#111"},
 "encoding": {"x": {"datum": 1323.5}, "y": {"datum": 4.25}}},
{"mark": {"type": "text", "text": "febbraio, °C", "align": "left", "baseline": "middle", "fontSize": 19.5, "color": "#111"},
 "encoding": {"x": {"datum": 1323.5}, "y": {"datum": 2.88}}},
{"mark": {"type": "text", "text": "soluzione ottimale in luglio", "align": "left", "baseline": "middle", "fontSize": 21, "color": "#111"},
 "encoding": {"x": {"datum": 1015}, "y": {"datum": 21.75}}},
{"mark": {"type": "text", "text": "soluzione ottimale in febbraio+luglio", "align": "right", "baseline": "middle", "fontSize": 21, "color": "#111"},
 "encoding": {"x": {"datum": 554}, "y": {"datum": 10.5}}},
{"mark": {"type": "text", "text": "soluzione ottimale in febbraio", "align": "left", "baseline": "middle", "fontSize": 21, "color": "#111"},
 "encoding": {"x": {"datum": 675.3}, "y": {"datum": 11.4}}},
{"mark": {"type": "text", "text": "↖", "align": "center", "baseline": "middle", "fontSize": 22, "color": "#111"},
 "encoding": {"x": {"datum": 1001}, "y": {"datum": 22.6}}},
{"mark": {"type": "text", "text": "↗", "align": "center", "baseline": "middle", "fontSize": 22, "color": "#111"},
 "encoding": {"x": {"datum": 568}, "y": {"datum": 11.5}}},
{"mark": {"type": "text", "text": "↙", "align": "center", "baseline": "middle", "fontSize": 22, "color": "#111"},
 "encoding": {"x": {"datum": 662}, "y": {"datum": 10.75}}}
]
}
